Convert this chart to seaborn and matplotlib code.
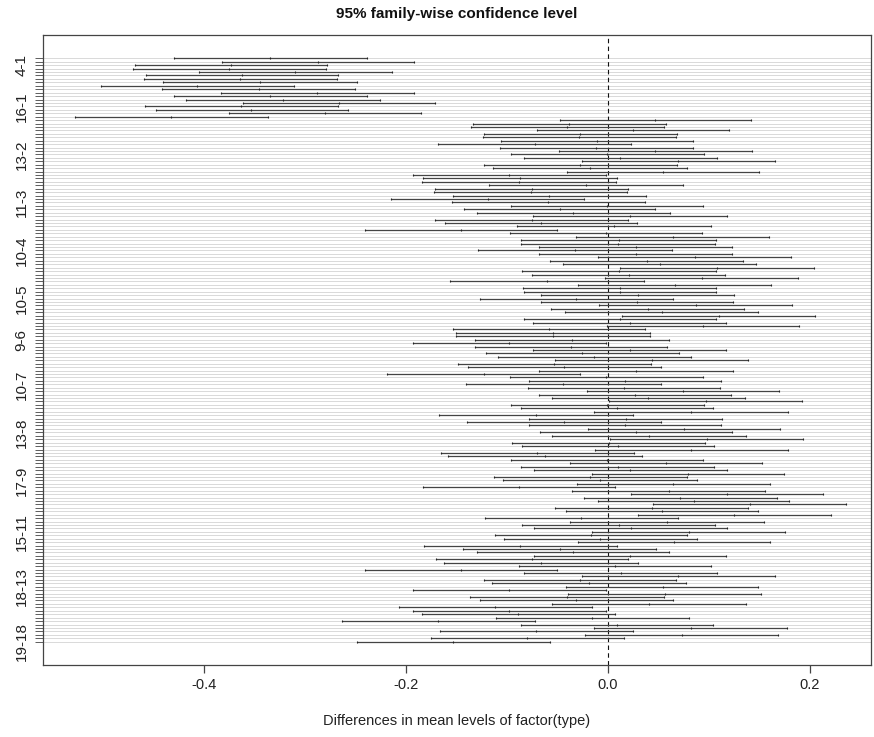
import numpy as np
import pandas as pd
import matplotlib
matplotlib.use("Agg")
import matplotlib.pyplot as plt
import seaborn as sns

# factor levels and pairwise comparisons (R TukeyHSD order)
levels = [str(i) for i in range(1, 20)]
comparisons = [f"{b}-{a}" for ai, a in enumerate(levels) for b in levels[ai + 1:]]
shown_labels = ["4-1", "16-1", "13-2", "11-3", "10-4", "10-5", "9-6", "10-7",
                "13-8", "17-9", "15-11", "18-13", "19-18"]
x_ticks = [-0.4, -0.2, 0.0, 0.2]
x_tick_labels = ["-0.4", "-0.2", "0.0", "0.2"]

lwr = [
    -0.430, -0.382, -0.468, -0.470, -0.405, -0.457, -0.459, -0.441, -0.502, -0.442, -0.383, -0.430, -0.418, -0.361, -0.458, -0.448, -0.375, -0.528,
    -0.048, -0.134, -0.136, -0.070, -0.123, -0.124, -0.106, -0.168, -0.107, -0.049, -0.096, -0.083, -0.026, -0.123, -0.114, -0.041, -0.193, -0.183, -0.184, -0.118, -0.171, -0.172, -0.153, -0.215, -0.154, -0.096, -0.143, -0.130, -0.074, -0.171, -0.161,
    -0.090, -0.241, -0.097, -0.032, -0.086, -0.086, -0.068, -0.129, -0.068, -0.010, -0.057, -0.045, 0.012, -0.085, -0.075, -0.003, -0.156, -0.030, -0.084, -0.083, -0.066, -0.127, -0.066, -0.009, -0.056, -0.043, 0.014, -0.083, -0.074, -0.001, -0.153,
    -0.150, -0.150, -0.132, -0.193, -0.132, -0.074, -0.121, -0.109, -0.052, -0.149, -0.139, -0.068, -0.219, -0.097, -0.078, -0.141, -0.079, -0.021, -0.068, -0.055, 0.001, -0.096, -0.086, -0.014, -0.167, -0.078, -0.140, -0.078, -0.020, -0.067, -0.055,
    0.002, -0.095, -0.085, -0.013, -0.165, -0.158, -0.096, -0.038, -0.086, -0.073, -0.016, -0.113, -0.104, -0.031, -0.183, -0.036, 0.023, -0.024, -0.010, 0.045, -0.052, -0.042, 0.030, -0.122, -0.038, -0.085, -0.073, -0.016, -0.112, -0.103, -0.030,
    -0.182, -0.144, -0.130, -0.073, -0.170, -0.162, -0.088, -0.241, -0.083, -0.026, -0.123, -0.115, -0.042, -0.193, -0.040, -0.137, -0.127, -0.055, -0.207, -0.193, -0.184, -0.111, -0.263, -0.086, -0.014, -0.166, -0.023, -0.175, -0.249,
]
diff = [
    -0.335, -0.287, -0.373, -0.375, -0.310, -0.362, -0.364, -0.345, -0.407, -0.346, -0.288, -0.335, -0.322, -0.266, -0.363, -0.353, -0.280, -0.433,
    0.047, -0.039, -0.041, 0.025, -0.028, -0.029, -0.011, -0.072, -0.012, 0.047, -0.001, 0.012, 0.069, -0.028, -0.018, 0.054, -0.098, -0.087, -0.088, -0.022, -0.075, -0.076, -0.058, -0.119, -0.059, -0.001, -0.048, -0.035, 0.022, -0.075, -0.066,
    0.006, -0.146, -0.002, 0.064, 0.011, 0.010, 0.028, -0.033, 0.028, 0.086, 0.039, 0.051, 0.108, 0.011, 0.021, 0.093, -0.060, 0.066, 0.012, 0.012, 0.030, -0.032, 0.029, 0.087, 0.040, 0.053, 0.110, 0.012, 0.022, 0.094, -0.058,
    -0.054, -0.054, -0.036, -0.098, -0.037, 0.022, -0.026, -0.014, 0.044, -0.053, -0.044, 0.028, -0.123, -0.002, 0.017, -0.045, 0.016, 0.074, 0.027, 0.040, 0.097, -0.001, 0.009, 0.082, -0.071, 0.018, -0.044, 0.017, 0.075, 0.028, 0.041,
    0.098, 0.001, 0.010, 0.082, -0.070, -0.062, -0.001, 0.057, 0.010, 0.022, 0.079, -0.018, -0.008, 0.064, -0.088, 0.060, 0.118, 0.071, 0.085, 0.141, 0.044, 0.053, 0.125, -0.027, 0.058, 0.011, 0.023, 0.080, -0.017, -0.008, 0.065,
    -0.087, -0.048, -0.035, 0.022, -0.075, -0.066, 0.007, -0.146, 0.013, 0.069, -0.028, -0.019, 0.054, -0.098, 0.056, -0.041, -0.032, 0.041, -0.112, -0.098, -0.089, -0.016, -0.168, 0.009, 0.082, -0.071, 0.073, -0.080, -0.153,
]
upr = [
    -0.239, -0.192, -0.278, -0.279, -0.214, -0.267, -0.268, -0.249, -0.311, -0.250, -0.192, -0.239, -0.226, -0.171, -0.267, -0.257, -0.185, -0.337,
    0.142, 0.057, 0.055, 0.120, 0.068, 0.067, 0.084, 0.023, 0.084, 0.143, 0.095, 0.108, 0.165, 0.068, 0.078, 0.150, -0.002, 0.009, 0.008, 0.074, 0.020, 0.019, 0.038, -0.024, 0.037, 0.094, 0.047, 0.061, 0.118, 0.020, 0.029,
    0.102, -0.050, 0.093, 0.159, 0.107, 0.106, 0.123, 0.063, 0.123, 0.181, 0.134, 0.147, 0.204, 0.107, 0.116, 0.188, 0.036, 0.161, 0.107, 0.107, 0.125, 0.064, 0.124, 0.182, 0.135, 0.149, 0.205, 0.107, 0.117, 0.189, 0.037,
    0.042, 0.042, 0.060, -0.002, 0.058, 0.117, 0.070, 0.082, 0.139, 0.043, 0.052, 0.124, -0.028, 0.094, 0.112, 0.052, 0.111, 0.169, 0.122, 0.136, 0.192, 0.095, 0.104, 0.178, 0.025, 0.113, 0.052, 0.112, 0.170, 0.123, 0.137,
    0.193, 0.096, 0.105, 0.178, 0.026, 0.034, 0.094, 0.152, 0.105, 0.118, 0.174, 0.078, 0.088, 0.160, 0.007, 0.155, 0.213, 0.167, 0.179, 0.236, 0.139, 0.149, 0.221, 0.069, 0.154, 0.106, 0.118, 0.175, 0.078, 0.088, 0.160,
    0.009, 0.048, 0.060, 0.117, 0.020, 0.030, 0.102, -0.050, 0.108, 0.165, 0.067, 0.077, 0.149, -0.002, 0.151, 0.055, 0.064, 0.137, -0.016, -0.002, 0.007, 0.080, -0.072, 0.104, 0.177, 0.025, 0.168, 0.016, -0.057,
]

sns.set_theme(style="white")
plt.rcParams['font.family'] = ['Liberation Sans', 'DejaVu Sans']
plt.rcParams['axes.unicode_minus'] = False

df = pd.DataFrame({"comparison": comparisons, "lwr": lwr, "diff": diff, "upr": upr})
df["pos"] = np.arange(len(df), 0, -1)

W, H = 874, 737
fig = plt.figure(figsize=(W / 100, H / 100), dpi=100)
left, right, top, bottom = 43, 871, 35, 665
ax = fig.add_axes([left / W, 1 - bottom / H, (right - left) / W, (bottom - top) / H])

xmin, xmax = -0.5594, 0.2604
n = len(df)
ax.set_xlim(xmin, xmax)
ax.set_ylim(1 - 0.04 * (n - 1), n + 0.04 * (n - 1))

# background light-gray lines for every comparison
ax.hlines(df["pos"], xmin, xmax, color="#d3d3d3", lw=0.6, zorder=1)
ax.axvline(0, color="#111111", lw=0.8, ls=(0, (4, 3)), zorder=2)
# confidence intervals
ax.hlines(df["pos"], df["lwr"], df["upr"], color="#444444", lw=0.9, zorder=3)
long = df.melt(id_vars="pos", value_vars=["lwr", "diff", "upr"], value_name="value")
sns.scatterplot(data=long, x="value", y="pos", marker="|", s=3, color="#222222",
                linewidth=0.8, ax=ax, legend=False, zorder=4)

ax.set_yticks(df["pos"])
ax.set_yticklabels([c if c in shown_labels else "" for c in df["comparison"]],
                   rotation=90, va="center", fontsize=11, color="#222222")
ax.set_xticks(x_ticks)
ax.set_xticklabels(x_tick_labels, fontsize=10.5, color="#222222")
ax.tick_params(axis="y", length=5.5, width=0.6, direction="out", pad=5, colors="#444444",
               labelcolor="#222222", left=True)
ax.tick_params(axis="x", length=5.5, width=0.9, direction="out", pad=4, colors="#444444",
               labelcolor="#222222", bottom=True)
ax.set_xlabel("Differences in mean levels of factor(type)", fontsize=10.5, color="#222222", labelpad=16)
ax.set_ylabel("")
ax.set_title("95% family-wise confidence level", fontsize=11, fontweight="bold", pad=12, color="#111111")
for s in ax.spines.values():
    s.set_color("#444444")
    s.set_linewidth(0.9)

fig.savefig("out.png", dpi=100)
